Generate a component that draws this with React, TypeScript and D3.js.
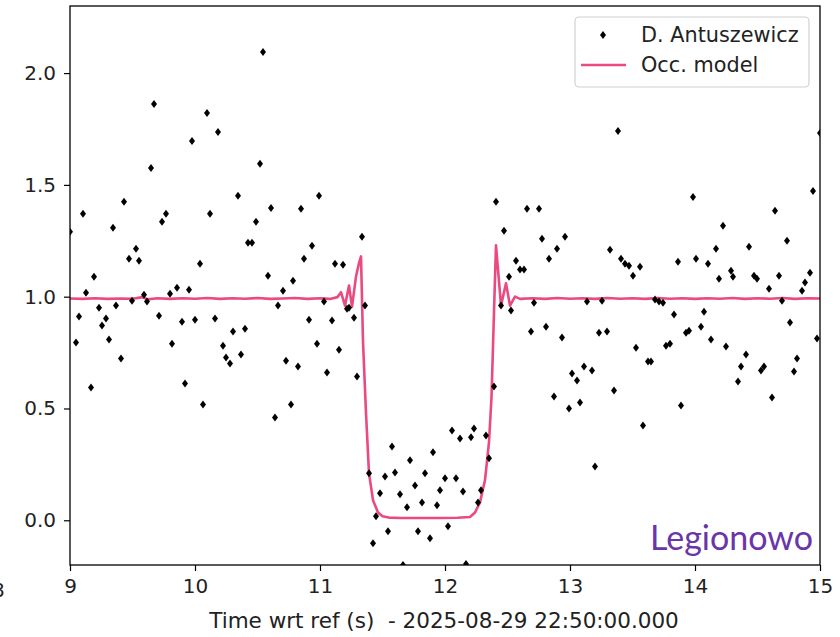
import React, { useRef, useEffect } from 'react';
import * as d3 from 'd3';

const obsT = [
  9.0, 9.048, 9.072, 9.104, 9.128, 9.168, 9.192, 9.232, 9.256, 9.288, 9.312, 9.344, 9.368, 9.408, 9.432, 9.472,
  9.496, 9.528, 9.552, 9.592, 9.616, 9.648, 9.672, 9.712, 9.736, 9.768, 9.8, 9.816, 9.856, 9.896, 9.92, 9.952,
  9.976, 10.0, 10.04, 10.064, 10.096, 10.12, 10.16, 10.184, 10.224, 10.248, 10.28, 10.304, 10.344, 10.368, 10.4,
  10.424, 10.456, 10.488, 10.52, 10.544, 10.584, 10.608, 10.64, 10.664, 10.704, 10.728, 10.768, 10.784, 10.824,
  10.848, 10.872, 10.912, 10.936, 10.976, 10.992, 11.032, 11.056, 11.096, 11.12, 11.152, 11.184, 11.216, 11.232,
  11.272, 11.296, 11.336, 11.36, 11.392, 11.424, 11.448, 11.48, 11.52, 11.544, 11.576, 11.6, 11.64, 11.664, 11.696,
  11.72, 11.76, 11.784, 11.816, 11.84, 11.88, 11.904, 11.936, 11.96, 12.0, 12.024, 12.056, 12.088, 12.12, 12.144,
  12.168, 12.208, 12.232, 12.264, 12.288, 12.328, 12.352, 12.392, 12.408, 12.448, 12.472, 12.512, 12.528, 12.568,
  12.6, 12.632, 12.656, 12.688, 12.712, 12.752, 12.776, 12.808, 12.832, 12.872, 12.896, 12.936, 12.96, 12.992,
  13.016, 13.056, 13.08, 13.112, 13.136, 13.176, 13.2, 13.232, 13.256, 13.296, 13.32, 13.352, 13.384, 13.408,
  13.44, 13.472, 13.504, 13.528, 13.56, 13.584, 13.624, 13.648, 13.68, 13.712, 13.744, 13.768, 13.8, 13.832,
  13.864, 13.888, 13.928, 13.952, 13.984, 14.008, 14.048, 14.072, 14.104, 14.128, 14.168, 14.192, 14.224, 14.248,
  14.288, 14.304, 14.344, 14.368, 14.408, 14.432, 14.472, 14.496, 14.528, 14.552, 14.592, 14.616, 14.64, 14.672,
  14.696, 14.736, 14.76, 14.792, 14.816, 14.856, 14.88, 14.92, 14.944, 14.976, 15.0,
];
const obsV = [
  1.29, 0.795, 0.911, 1.371, 1.018, 0.594, 1.089, 0.951, 0.871, 0.902, 0.808, 1.308, 0.96, 0.723, 1.424, 1.17,
  0.982, 1.214, 1.161, 1.009, 0.978, 1.576, 1.862, 0.915, 1.335, 1.371, 1.013, 0.79, 1.04, 0.888, 0.612, 1.031,
  1.696, 0.897, 1.147, 0.518, 1.821, 1.371, 0.902, 1.737, 0.781, 0.728, 0.701, 0.844, 1.451, 0.741, 0.857,
  1.241, 1.241, 1.335, 1.594, 2.094, 1.094, 1.397, 0.46, 0.96, 1.027, 0.714, 0.518, 1.071, 0.688,
  1.393, 1.17, 0.897, 1.228, 0.79, 1.451, 0.978, 0.661, 0.893, 1.147, 0.763, 1.143, 0.946, 0.951,
  0.906, 0.643, 1.268, 0.96, 0.21, -0.103, 0.018, 0.121, 0.196, -0.049, 0.33, 0.214, 0.116, -0.2, 0.058,
  0.268, 0.156, -0.049, 0.08, 0.21, -0.08, 0.304, 0.067, 0.134, 0.188, -0.027, 0.402, 0.188, 0.366, 0.129,
  -0.195, 0.371, 0.411, 0.08, 0.134, 0.379, 0.277, 0.598, 1.424, 0.96, 1.295, 1.089, 0.938, 1.161,
  1.121, 1.121, 1.393, 0.844, 0.973, 1.393, 1.259, 0.866, 1.17, 0.554, 1.214, 0.817, 1.268, 0.5,
  0.656, 0.625, 0.527, 0.688, 0.978, 0.67, 0.241, 0.839, 0.982, 0.844, 1.21, 0.58, 1.741, 1.17,
  1.147, 1.138, 1.094, 0.772, 1.134, 0.424, 0.71, 0.71, 0.987, 0.978, 0.973, 0.781, 0.79, 0.92,
  1.156, 0.513, 0.839, 0.848, 1.446, 1.17, 0.866, 0.933, 1.147, 0.808, 1.214, 1.08, 1.317, 0.777,
  1.116, 1.089, 0.621, 0.688, 0.741, 1.223, 1.094, 1.08, 0.67, 0.688, 1.036, 0.549, 1.384, 1.094,
  0.982, 1.25, 0.884, 0.665, 0.723, 1.027, 1.063, 1.107, 1.473, 0.813, 1.732,
];

// occultation model, sampled by eye
const modelT = [
  9.0, 9.1, 9.2, 9.3, 9.4, 9.5, 9.58, 9.62, 9.7, 9.8, 9.9, 10.0, 10.1, 10.2, 10.3, 10.4, 10.5, 10.6, 10.7,
  10.8, 10.9, 11.0, 11.08, 11.14, 11.168, 11.2, 11.232, 11.256, 11.288, 11.312, 11.328, 11.344, 11.368, 11.392,
  11.424, 11.464, 11.5, 11.55, 11.65, 11.8, 11.95, 12.1, 12.2, 12.24, 12.28, 12.32, 12.352, 12.372, 12.392,
  12.408, 12.448, 12.488, 12.52, 12.56, 12.6, 12.7, 12.8, 12.9, 13.0, 13.1, 13.2, 13.3, 13.4, 13.5, 13.6,
  13.7, 13.8, 13.9, 14.0, 14.1, 14.2, 14.3, 14.4, 14.5, 14.6, 14.7, 14.8, 14.9, 15.0,
];
const modelV = [
  0.992, 0.99, 0.993, 0.99, 0.992, 0.991, 0.998, 0.988, 0.993, 0.99, 0.993, 0.991, 0.994, 0.99, 0.993, 0.991,
  0.994, 0.99, 0.992, 0.994, 0.99, 0.993, 0.99, 0.998, 1.02, 0.96, 1.05, 0.955, 1.09, 1.15, 1.18, 0.8, 0.48, 0.21,
  0.09, 0.035, 0.018, 0.012, 0.01, 0.01, 0.01, 0.011, 0.015, 0.035, 0.08, 0.18, 0.35, 0.55, 0.93,
  1.23, 0.96, 1.06, 0.96, 1.0, 0.99, 0.993, 0.99, 0.994, 0.991, 0.993, 0.99, 0.994, 0.991, 0.993, 0.99,
  0.994, 0.991, 0.993, 0.99, 0.993, 0.991, 0.994, 0.99, 0.993, 0.991, 0.994, 0.99, 0.993, 0.992,
];

const xTicks = [9, 10, 11, 12, 13, 14, 15];
const yTicks = [0.0, 0.5, 1.0, 1.5, 2.0];
const seriesNames = ['D. Antuszewicz', 'Occ. model'];
const xLabel = 'Time wrt ref (s)  - 2025-08-29 22:50:00.000';
const siteName = 'Legionowo';

const PINK = '#ea4a7f';
const FONT = 'DejaVu Sans, sans-serif';

const App = () => {
  const ref = useRef<SVGSVGElement>(null);

  useEffect(() => {
    if (!ref.current) return;
    const svg = d3.select(ref.current);
    svg.selectAll('*').remove();

    const left = 70, right = 820, top = 6, bottom = 565;

    const x = d3.scaleLinear().domain([9, 15]).range([left, right]);
    const y = d3.scaleLinear().domain([-0.2, 2.3]).range([bottom, top]);

    svg.append('rect').attr('width', 840).attr('height', 637).attr('fill', '#fff');

    svg.append('defs').append('clipPath').attr('id', 'plot-clip')
      .append('rect')
      .attr('x', left).attr('y', top)
      .attr('width', right - left).attr('height', bottom - top);

    const plot = svg.append('g').attr('clip-path', 'url(#plot-clip)');

    // model curve
    const line = d3.line<number>()
      .x((d, i) => x(modelT[i]))
      .y((d) => y(d));
    plot.append('path')
      .datum(modelV)
      .attr('fill', 'none')
      .attr('stroke', PINK)
      .attr('stroke-width', 2.6)
      .attr('stroke-linejoin', 'round')
      .attr('d', line);

    // observations, thin diamonds
    const diamond = 'M0,-4L3,0L0,4L-3,0Z';
    plot.selectAll('path.pt')
      .data(obsV)
      .enter()
      .append('path')
      .attr('class', 'pt')
      .attr('d', diamond)
      .attr('transform', (d, i) => `translate(${x(obsT[i])},${y(d)})`)
      .attr('fill', '#000');

    // axes
    const xAxis = d3.axisBottom(x).tickValues(xTicks).tickFormat(d3.format('d')).tickSize(6).tickPadding(8);
    const yAxis = d3.axisLeft(y).tickValues(yTicks).tickFormat(d3.format('.1f')).tickSize(6).tickPadding(8);

    const gx = svg.append('g').attr('transform', `translate(0,${bottom})`).call(xAxis);
    const gy = svg.append('g').attr('transform', `translate(${left},0)`).call(yAxis);
    [gx, gy].forEach((g) => {
      g.select('.domain').remove();
      g.selectAll('line').attr('stroke', '#000').attr('stroke-width', 1.2);
      g.selectAll('text').attr('font-family', FONT).attr('font-size', 20).attr('fill', '#222');
    });

    // frame
    svg.append('rect')
      .attr('x', left).attr('y', top)
      .attr('width', right - left).attr('height', bottom - top)
      .attr('fill', 'none').attr('stroke', '#000').attr('stroke-width', 1.3);

    // cut-off tick label at the left edge, as in the source image
    svg.append('text')
      .attr('x', -8).attr('y', 597)
      .attr('font-family', FONT).attr('font-size', 20).attr('fill', '#222')
      .text('8');

    svg.append('text')
      .attr('x', 444).attr('y', 628)
      .attr('text-anchor', 'middle')
      .attr('font-family', FONT).attr('font-size', 21.5).attr('fill', '#222')
      .attr('xml:space', 'preserve')
      .style('white-space', 'pre')
      .text(xLabel);

    // legend
    const lg = svg.append('g');
    lg.append('rect')
      .attr('x', 575).attr('y', 17).attr('width', 234).attr('height', 70)
      .attr('rx', 4)
      .attr('fill', '#fff').attr('fill-opacity', 0.8)
      .attr('stroke', '#d0d0d0').attr('stroke-width', 1.2);
    lg.append('path').attr('d', diamond).attr('transform', 'translate(603,35)').attr('fill', '#000');
    lg.append('line')
      .attr('x1', 581).attr('x2', 626).attr('y1', 65).attr('y2', 65)
      .attr('stroke', PINK).attr('stroke-width', 2.6);
    lg.selectAll('text.lbl')
      .data(seriesNames)
      .enter()
      .append('text')
      .attr('class', 'lbl')
      .attr('x', 641)
      .attr('y', (d, i) => 42 + i * 30)
      .attr('font-family', FONT).attr('font-size', 20.8).attr('fill', '#222')
      .text((d) => d);

    svg.append('text')
      .attr('x', 813).attr('y', 550)
      .attr('text-anchor', 'end')
      .attr('font-family', 'Lato, sans-serif').attr('font-size', 34)
      .attr('fill', '#6a35a8')
      .text(siteName);
  }, []);

  return (
    <svg
      ref={ref}
      width={840}
      height={637}
      style={{ position: 'absolute', left: 0, top: 0 }}
    />
  );
};

export default App;
